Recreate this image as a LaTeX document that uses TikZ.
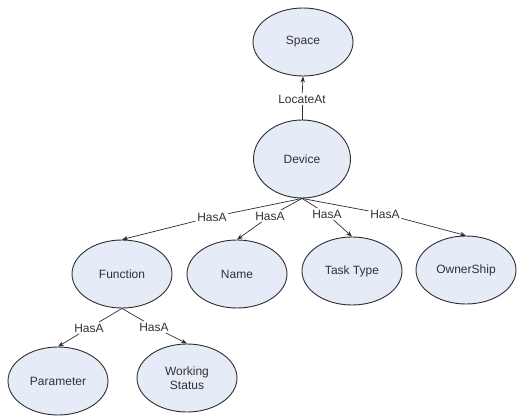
\documentclass[tikz,border=0pt]{standalone}
\usepackage{fontspec}
\setmainfont{Liberation Sans}
\usetikzlibrary{arrows.meta,shapes.geometric}
\definecolor{ovalfill}{RGB}{229,235,247}
\definecolor{ovaledge}{RGB}{45,45,45}
\definecolor{txtgrey}{RGB}{50,50,50}

\begin{document}
\begin{tikzpicture}[x=1pt, y=-1pt,
    concept/.style={ellipse, draw=ovaledge, fill=ovalfill, line width=0.9pt,
        minimum width=100pt, minimum height=68pt, inner sep=0pt,
        font=\fontsize{12}{14}\selectfont, text=txtgrey, align=center},
    rel/.style={inner sep=1.5pt, font=\fontsize{12}{14}\selectfont, text=txtgrey},
    link/.style={draw=ovaledge, line width=0.7pt},
    >={Stealth[length=6pt,width=4.5pt]}
]
\useasboundingbox (0,0) rectangle (517,417);

% concepts
\node[concept] (space) at (303,42) {Space};
\node[concept, minimum width=97pt, minimum height=78pt] (device) at (302,159) {Device};
\node[concept] (function) at (122,274) {Function};
\node[concept] (name) at (237,274) {Name};
\node[concept] (tasktype) at (352,271) {Task Type};
\node[concept] (ownership) at (466,270) {OwnerShip};
\node[concept] (parameter) at (58,381) {Parameter};
\node[concept] (workstatus) at (187,378) {Working\\Status};

% relation labels
\node[rel] (locate) at (302,99) {LocateAt};
\node[rel] (hasFunc) at (212,217) {HasA};
\node[rel] (hasName) at (270,216) {HasA};
\node[rel] (hasTask) at (327,214) {HasA};
\node[rel] (hasOwner) at (385,214) {HasA};
\node[rel] (hasParam) at (89,328) {HasA};
\node[rel] (hasStatus) at (154,327) {HasA};

% connectors
\draw[link] (device.north) -- (locate);
\draw[link, ->] (locate) -- (space.south);
\foreach \lbl/\tgt in {hasFunc/function, hasName/name, hasTask/tasktype, hasOwner/ownership} {
    \draw[link] (device.south) -- (\lbl);
    \draw[link, ->] (\lbl) -- (\tgt.north);
}
\foreach \lbl/\tgt in {hasParam/parameter, hasStatus/workstatus} {
    \draw[link] (function.south) -- (\lbl);
    \draw[link, ->] (\lbl) -- (\tgt.north);
}
\end{tikzpicture}
\end{document}
